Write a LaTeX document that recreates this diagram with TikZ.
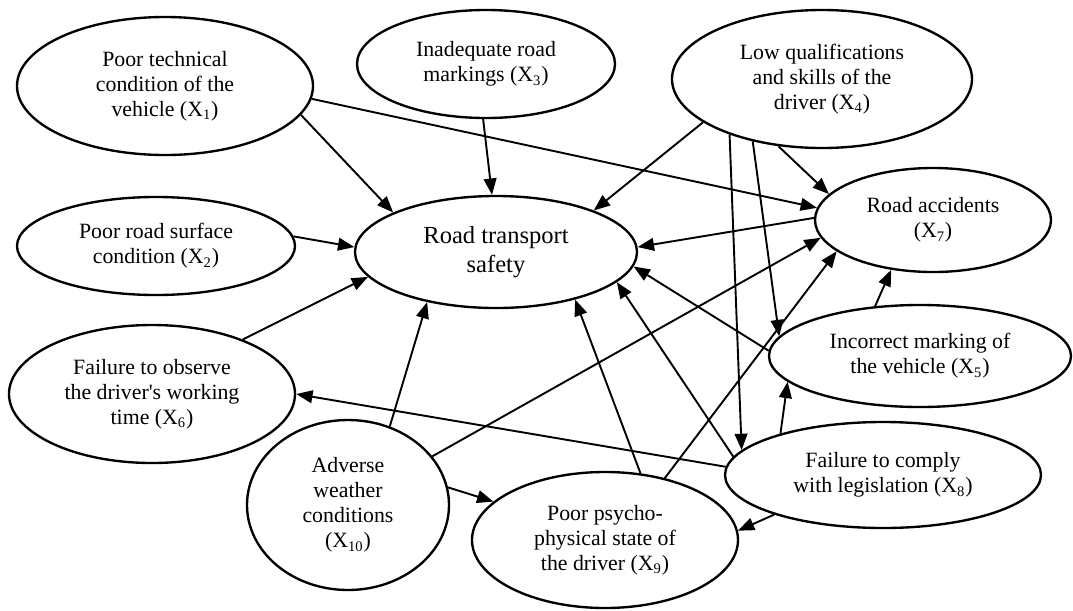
\documentclass[tikz,border=0pt]{standalone}
\usepackage{fontspec}
\setmainfont{Liberation Serif}
\usetikzlibrary{shapes.geometric,arrows.meta}

\tikzset{
  factor/.style={ellipse, draw, line width=1.3pt, inner sep=0pt, align=center,
    font=\fontsize{12}{13.8}\selectfont},
  dims/.style 2 args={minimum width=#1*0.55pt, minimum height=#2*0.55pt},
  link/.style={line width=1.05pt, -{Triangle[length=9pt,width=7pt]}}
}

\begin{document}
\begin{tikzpicture}[x=0.55pt, y=-0.55pt]
\useasboundingbox (0,0) rectangle (1073,610);

\node[factor, dims={282}{112}, font=\fontsize{13.5}{16}\selectfont] (rts) at (496,252) {Road transport\\safety};

\node[factor, dims={296}{138}] (x1) at (165,86) {Poor technical\\condition of the\\vehicle (X\textsubscript{1})};
\node[factor, dims={278}{98}] (x2) at (156,246) {Poor road surface\\condition (X\textsubscript{2})};
\node[factor, dims={258}{108}] (x3) at (486,64) {Inadequate road\\markings (X\textsubscript{3})};
\node[factor, dims={300}{138}] (x4) at (822,79) {Low qualifications\\and skills of the\\driver (X\textsubscript{4})};
\node[factor, dims={302}{102}] (x5) at (920,356) {Incorrect marking of\\the vehicle (X\textsubscript{5})};
\node[factor, dims={286}{138}] (x6) at (152,394) {Failure to observe\\the driver\textquotesingle s working\\time (X\textsubscript{6})};
\node[factor, dims={236}{104}] (x7) at (933,220) {Road accidents\\(X\textsubscript{7})};
\node[factor, dims={316}{106}] (x8) at (883,475) {Failure to comply\\with legislation (X\textsubscript{8})};
\node[factor, dims={266}{136}] (x9) at (605,540) {Poor psycho-\\physical state of\\the driver (X\textsubscript{9})};
\node[factor, dims={202}{170}] (x10) at (348,505) {Adverse\\weather\\conditions\\(X\textsubscript{10})};

\draw[link] (x1.-12) -- (rts.159);
\draw[link] (x1.-5) -- (x7.174);
\draw[link] (x2.4) -- (rts.178);
\draw[link] (x3.-93) -- (rts.94);
\draw[link] (x4.-160) -- (rts.23);
\draw[link] (x4.-149) -- (x8.170);
\draw[link] (x4.-138) -- (x5.172);
\draw[link] (x4.-123) -- (x7.166);
\draw[link] (x7.179) -- (rts.2);
\draw[link] (x5.178) -- (rts.-6);
\draw[link] (x5.132) -- (x7.-130);
\draw[link] (x8.173) -- (rts.-14);
\draw[link] (x8.158) -- (x5.-169);
\draw[link] (x8.177) -- (x6.0);
\draw[link] (x8.-160) -- (x9.4);
\draw[link] (x6.31) -- (rts.-169);
\draw[link] (x9.62) -- (rts.-31);
\draw[link] (x9.46) -- (x7.-162);
\draw[link] (x10.62) -- (rts.-144);
\draw[link] (x10.30) -- (x7.-171);
\draw[link] (x10.10) -- (x9.161);
\end{tikzpicture}
\end{document}
